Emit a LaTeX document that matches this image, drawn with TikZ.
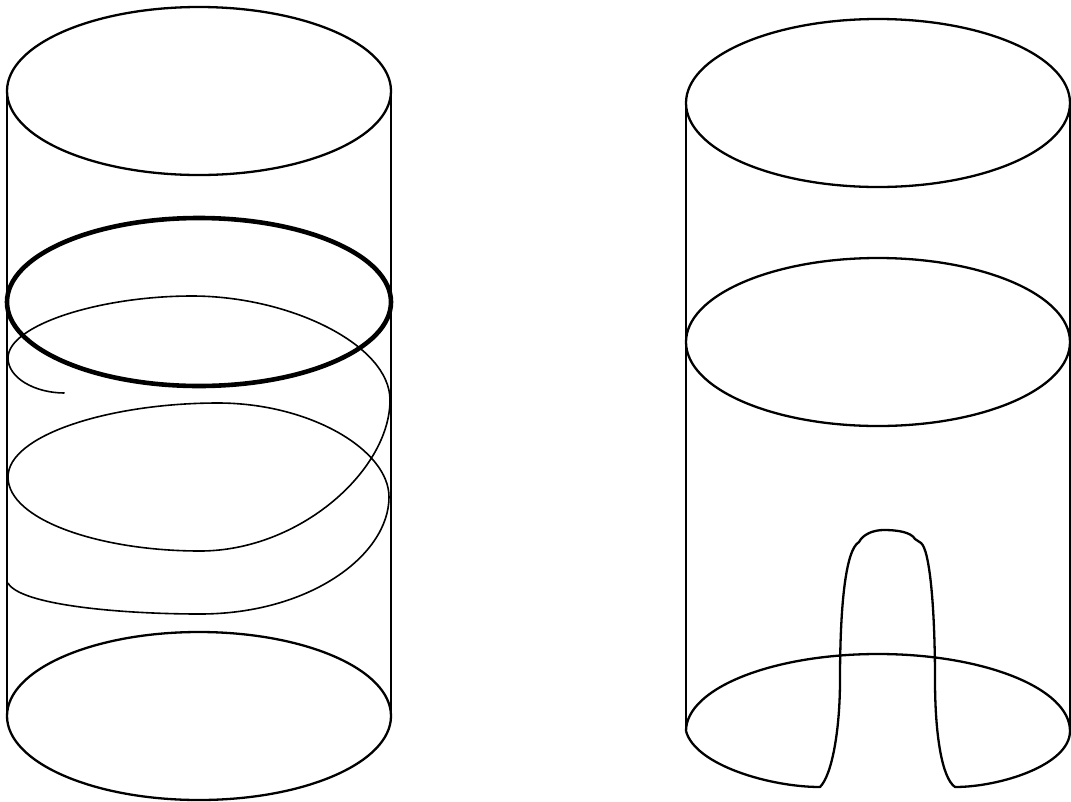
\documentclass[tikz,border=0pt]{standalone}
\begin{document}
\begin{tikzpicture}[x=1pt,y=-1pt,
rim/.style={line width=2.3pt,draw=black},
band/.style={line width=4.6pt,draw=black},
helix/.style={line width=1.6pt,draw=black}]
\useasboundingbox (0,0) rectangle (1071,801);
% left cylinder
\draw[rim] (199,91) ellipse [x radius=192,y radius=84];
\draw[rim] (199,716) ellipse [x radius=192,y radius=84];
\draw[rim] (7,91)--(7,716);
\draw[rim] (391,91)--(391,716);
\draw[band] (199,302) ellipse [x radius=192,y radius=84];
\draw[helix] (64.5,393) .. controls (35,393) and (8,378) .. (8,358)
 .. controls (8,325) and (100,296) .. (192,296)
 .. controls (290,296) and (390,345) .. (390,400)
 .. controls (390,470) and (300,551) .. (200,551)
 .. controls (100,551) and (8,520) .. (8,477)
 .. controls (8,435) and (110,403) .. (218,403)
 .. controls (310,403) and (389,450) .. (389,497)
 .. controls (389,555) and (310,614) .. (200,614)
 .. controls (120,614) and (20,605) .. (8,583);
% right cylinder
\draw[rim] (878,103) ellipse [x radius=192,y radius=84];
\draw[rim] (878,342) ellipse [x radius=192,y radius=84];
\draw[rim] (686,103)--(686,731);
\draw[rim] (1070,103)--(1070,731);
\draw[rim] (686,731) arc [start angle=180,end angle=0,x radius=192,y radius=-77];
\draw[rim,line join=round] (686,731) .. controls (695,765) and (770,787) .. (820,787)
 .. controls (832,775) and (840,730) .. (840,680)
 .. controls (840,610) and (845,550) .. (859,542)
 -- (861,539) .. controls (866,533) and (875,530) .. (884,530)
 .. controls (897,530) and (911,532) .. (915,539)
 -- (921,543) .. controls (930,550) and (935,610) .. (935,680)
 .. controls (935,735) and (942,778) .. (955,787)
 .. controls (1000,787) and (1070,765) .. (1070,731);
\end{tikzpicture}
\end{document}
